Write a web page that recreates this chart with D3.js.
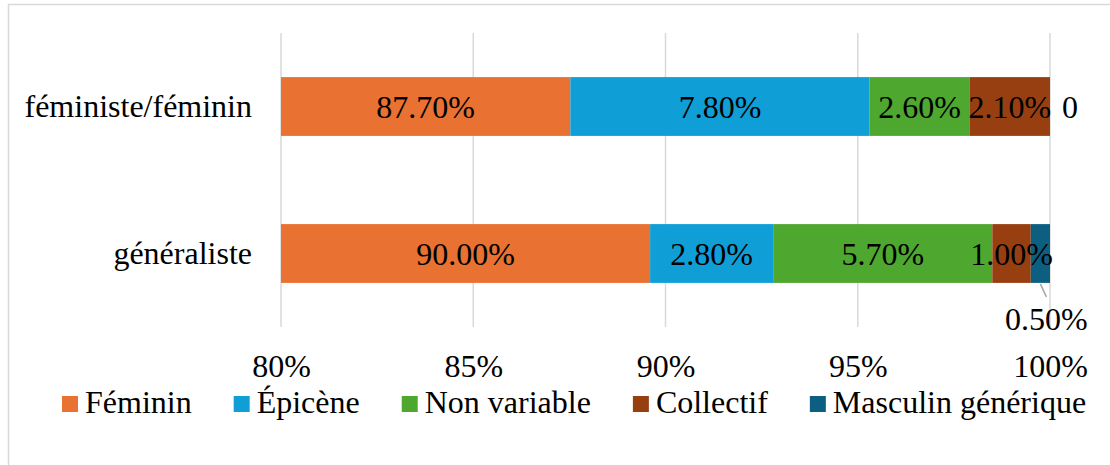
<!DOCTYPE html>
<html>
<head>
<meta charset="utf-8">
<script src="https://cdn.jsdelivr.net/npm/d3@7"></script>
<style>
  body { margin: 0; background: #fff; }
  svg { display: block; }
</style>
</head>
<body>
<svg id="chart"></svg>
<script>
// Categories (top to bottom)
const categories = ["féministe/féminin", "généraliste"];
// Series names (stack order)
const seriesNames = ["Féminin", "Épicène", "Non variable", "Collectif", "Masculin générique"];
// Values (100% stacked)
const feministeValues = [87.7, 7.8, 2.6, 2.1, 0];
const generalisteValues = [89.6, 3.2, 5.7, 1.0, 0.5];
// Data labels as printed in the chart
const feministeLabels = ["87.70%", "7.80%", "2.60%", "2.10%", "0"];
const generalisteLabels = ["90.00%", "2.80%", "5.70%", "1.00%", "0.50%"];
// Axis ticks
const tickValues = [0.8, 0.85, 0.9, 0.95, 1.0];
const colors = ["#E97132", "#0F9ED5", "#4EA72E", "#983F12", "#0D5F82"];

const FONT = "Liberation Serif";
const width = 1110, height = 465;
const margin = { top: 33, right: 60, bottom: 138, left: 281 };

const svg = d3.select("#chart").attr("width", width).attr("height", height);

// chart border (cropped at right / bottom)
svg.append("rect")
  .attr("x", 8.5).attr("y", 4.5)
  .attr("width", width + 10).attr("height", height + 10)
  .attr("fill", "#fff")
  .attr("stroke", "#D9D9D9")
  .attr("stroke-width", 1.5);

// build rows
const rows = categories.map((c, i) => {
  const vals = i === 0 ? feministeValues : generalisteValues;
  const row = { category: c };
  seriesNames.forEach((s, j) => row[s] = vals[j]);
  return row;
});
const labels = [feministeLabels, generalisteLabels];

const stacked = d3.stack()
  .keys(seriesNames)
  .offset(d3.stackOffsetExpand)(rows);

const x = d3.scaleLinear()
  .domain([0.8, 1])
  .range([margin.left, width - margin.right]);

const y = d3.scaleBand()
  .domain(categories)
  .range([margin.top, height - margin.bottom])
  .paddingInner(0.6)
  .paddingOuter(0.3);

// gridlines
svg.append("g")
  .selectAll("line")
  .data(tickValues)
  .enter()
  .append("line")
  .attr("x1", d => x(d)).attr("x2", d => x(d))
  .attr("y1", margin.top).attr("y2", height - margin.bottom)
  .attr("stroke", "#D9D9D9")
  .attr("stroke-width", 1.5);

// x axis labels
const xAxis = svg.append("g")
  .attr("transform", `translate(0,${height - margin.bottom})`)
  .call(d3.axisBottom(x).tickValues(tickValues).tickFormat(d3.format(".0%")).tickSize(0));
xAxis.select(".domain").remove();
xAxis.attr("font-family", FONT).attr("font-size", 32);
xAxis.selectAll("text")
  .attr("y", 50).attr("dy", 0)
  .attr("fill", "#000");

// y axis labels
const yAxis = svg.append("g")
  .attr("transform", `translate(${margin.left},0)`)
  .call(d3.axisLeft(y).tickSize(0).tickPadding(29));
yAxis.select(".domain").remove();
yAxis.attr("font-family", FONT).attr("font-size", 32);
yAxis.selectAll("text")
  .attr("dy", "0.33em")
  .attr("fill", "#000");

// bars
const clampX = v => x(Math.max(v, 0.8));
const layers = svg.append("g")
  .selectAll("g")
  .data(stacked)
  .enter()
  .append("g")
  .attr("fill", (d, i) => colors[i]);

layers.selectAll("rect")
  .data(d => d)
  .enter()
  .append("rect")
  .attr("x", d => clampX(d[0]))
  .attr("y", d => y(d.data.category))
  .attr("width", d => Math.max(0, clampX(d[1]) - clampX(d[0])))
  .attr("height", y.bandwidth());

// data labels
const labelG = svg.append("g")
  .attr("font-family", FONT)
  .attr("font-size", 32)
  .attr("fill", "#000");

stacked.forEach((layer, si) => {
  layer.forEach((d, ci) => {
    const txt = labels[ci][si];
    const cy = y(d.data.category) + y.bandwidth() / 2;
    const x0 = clampX(d[0]), x1 = clampX(d[1]);
    if (d[1] - d[0] === 0) {
      // zero value: label after the bar end
      labelG.append("text")
        .attr("x", x1 + 12).attr("y", cy + 11)
        .text(txt);
    } else if (x1 - x0 < 30) {
      // tiny segment: label below with leader line
      const bx = (x0 + x1) / 2;
      const by = y(d.data.category) + y.bandwidth();
      svg.append("line")
        .attr("x1", bx).attr("y1", by + 1)
        .attr("x2", bx + 6).attr("y2", by + 14)
        .attr("stroke", "#A6A6A6")
        .attr("stroke-width", 1.5);
      labelG.append("text")
        .attr("x", bx + 6).attr("y", by + 47)
        .attr("text-anchor", "middle")
        .text(txt);
    } else {
      labelG.append("text")
        .attr("x", (x0 + x1) / 2).attr("y", cy + 11)
        .attr("text-anchor", "middle")
        .text(txt);
    }
  });
});

// legend
const legend = svg.append("g")
  .attr("font-family", FONT)
  .attr("font-size", 32);
let lx = 62;
seriesNames.forEach((s, i) => {
  legend.append("rect")
    .attr("x", lx).attr("y", 396)
    .attr("width", 16).attr("height", 16)
    .attr("fill", colors[i]);
  const t = legend.append("text")
    .attr("x", lx + 23).attr("y", 413)
    .attr("fill", "#000")
    .text(s);
  lx += 23 + t.node().getComputedTextLength() + 42;
});
</script>
</body>
</html>
